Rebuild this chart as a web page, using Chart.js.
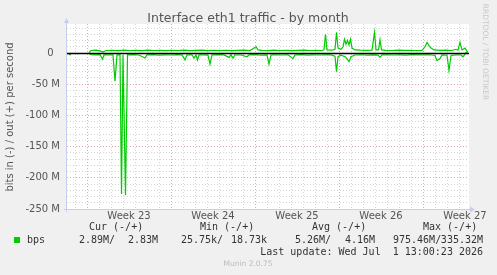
<!DOCTYPE html>
<html>
<head>
<meta charset="utf-8">
<title>Interface eth1 traffic - by month</title>
<script src="https://cdn.jsdelivr.net/npm/chart.js@4.4.1/dist/chart.umd.min.js"></script>
<style>
  html, body { margin: 0; padding: 0; background: #f0f0f0; }
  canvas { display: block; }
</style>
</head>
<body>
<canvas id="myChart" width="497" height="275"></canvas>
<script>
// hours since start of week 23, values in Mbit/s
var outHours = [4, 8, 18, 26, 32, 38, 50, 62, 74, 86, 98, 110, 122, 134, 146, 158, 170, 182, 194, 206,
    218, 230, 242, 254, 266, 278, 290, 302, 314, 326, 332, 338, 342, 350, 362, 374, 386, 398, 410, 422,
    434, 446, 458, 470, 474, 477, 480, 490, 496, 499, 502, 508, 512, 515, 518, 521, 524, 527, 530, 536,
    546, 558, 570, 575, 578, 583, 586, 589, 598, 610, 622, 634, 646, 658, 670, 676, 680, 684, 688, 694,
    706, 718, 730, 738, 742, 746, 750, 756, 760, 762];
var outValues = [0.5, 4, 4.5, 3.5, 1.5, 4, 4.2, 3.8, 4.5, 4, 4.3, 3.8, 4.5, 4, 4.2, 3.7, 4.4, 4, 4.5, 3.9,
    4.2, 4.6, 3.8, 4.3, 4, 4.4, 3.9, 4.2, 4.5, 4, 7, 10, 5, 4.2, 3.9, 4.5, 4, 4.3, 3.8, 4.2,
    4.5, 4, 4.3, 4, 5, 30, 5, 4.5, 6, 33, 8, 6, 10, 22, 14, 20, 13, 22, 8, 5,
    4.5, 4.2, 4.6, 33, 5, 5, 21, 5, 4.3, 4, 4.5, 4.1, 4.4, 4, 4.3, 10, 17, 12, 8, 5,
    4.2, 4.5, 4, 6, 4.5, 17, 5, 8, 3, 2];

var inHours = [-40, -36, -34, -32, -28, -20, -16, -12,
    4, 8, 18, 26, 31, 34, 46, 52, 56, 60, 66, 69, 72, 77, 81, 92, 104, 116, 120, 132, 144, 156,
    168, 180, 190, 196, 200, 210, 214, 218, 221, 224, 234, 242, 246, 250, 262, 274, 284, 288, 292, 296,
    308, 320, 324, 336, 348, 360, 364, 368, 380, 392, 402, 412, 416, 428, 440, 452, 464, 476, 488, 496,
    499, 502, 508, 516, 520, 524, 528, 536, 548, 560, 572, 582, 586, 590, 602, 614, 626, 638, 650, 662,
    674, 686, 696, 700, 706, 710, 720, 724, 728, 738, 748, 752, 758, 762];
var inValues = [-1, -1, -3, -1, null, -1, -1, null,
    -0.5, -2.5, -3, -2.5, -10, -3, -2.8, -3, -45, -3, -2.6, -226, -3, -228, -3, -2.7, -3.2, -8, -3, -2.6, -3.5, -2.9,
    -3.2, -2.7, -3, -11, -3, -2.8, -8, -3, -11, -3, -2.9, -3.3, -18, -3, -2.7, -3.1, -7, -3, -8, -2.8,
    -3.2, -6, -3, -2.7, -3.3, -3, -18, -3, -2.8, -3.2, -3, -9, -3, -2.7, -3.4, -2.9, -3.2, -2.8, -3.1, -5,
    -30, -6, -3.5, -6, -9, -14, -6, -3.2, -2.8, -3.3, -3, -3.5, -7, -3, -2.8, -3.2, -2.9, -3.3, -2.7, -3.1,
    -3, -2.8, -4, -12, -9, -3, -3.5, -28, -4, -3, -3.2, -6, 1, 2];

var weekHours = [84, 252, 420, 588, 756];
var weekLabels = ["Week 23", "Week 24", "Week 25", "Week 26", "Week 27"];
var yTickValues = [-250, -240, -230, -220, -210, -200, -190, -180, -170, -160, -150, -140, -130, -120, -110,
    -100, -90, -80, -70, -60, -50, -40, -30, -20, -10, 0, 10, 20, 30, 40];

var legendHeads = ["Cur (-/+)", "Min (-/+)", "Avg (-/+)", "Max (-/+)"];
var legendIn = ["2.89M/", "25.75k/", "5.26M/", "975.46M/"];
var legendOut = ["2.83M", "18.73k", "4.16M", "335.32M"];

var GREEN = "#00cc00";
var SANS = "'DejaVu Sans', sans-serif";
var MONO = "'DejaVu Sans Mono', monospace";

function pairs(xs, ys) {
    return xs.map(function(x, i) { return {x: x, y: ys[i]}; });
}

var muninPlugin = {
    id: "munin",
    beforeDraw: function(chart) {
        var c = chart.ctx, a = chart.chartArea;
        c.save();
        c.fillStyle = "#f0f0f0";
        c.fillRect(0, 0, chart.width, chart.height);
        c.fillStyle = "#ffffff";
        c.fillRect(a.left, a.top, a.right - a.left, a.bottom - a.top);
        c.restore();
    },
    afterDatasetsDraw: function(chart) {
        var c = chart.ctx, a = chart.chartArea;
        var y0 = Math.round(chart.scales.y.getPixelForValue(0)) + 0.5;
        c.save();
        c.strokeStyle = "#000000";
        c.lineWidth = 1.5;
        c.beginPath();
        c.moveTo(a.left, y0);
        c.lineTo(a.right, y0);
        c.stroke();
        c.restore();
    },
    afterDraw: function(chart) {
        var c = chart.ctx, a = chart.chartArea;
        c.save();
        // axes with arrows
        c.strokeStyle = "#c8ccf0";
        c.fillStyle = "#c8ccf0";
        c.lineWidth = 1;
        c.beginPath();
        c.moveTo(a.left - 0.5, a.bottom + 3);
        c.lineTo(a.left - 0.5, a.top - 2);
        c.moveTo(a.left - 3, a.bottom + 0.5);
        c.lineTo(a.right + 2, a.bottom + 0.5);
        c.stroke();
        c.beginPath();
        c.moveTo(a.left - 3, a.top - 1);
        c.lineTo(a.left - 0.5, a.top - 6);
        c.lineTo(a.left + 2, a.top - 1);
        c.fill();
        c.beginPath();
        c.moveTo(a.right + 1, a.bottom - 2.5);
        c.lineTo(a.right + 6, a.bottom + 0.5);
        c.lineTo(a.right + 1, a.bottom + 3.5);
        c.fill();

        // title
        c.fillStyle = "#555555";
        c.font = "12.5px " + SANS;
        c.textAlign = "center";
        c.textBaseline = "middle";
        c.fillText("Interface eth1 traffic - by month", 248, 19);

        // y axis title
        c.save();
        c.translate(10, 117);
        c.rotate(-Math.PI / 2);
        c.font = "10px " + SANS;
        c.fillText("bits in (-) / out (+) per second", 0, 0);
        c.restore();

        // watermark
        c.save();
        c.translate(485, 52);
        c.rotate(Math.PI / 2);
        c.fillStyle = "#c8c8c8";
        c.font = "7.5px " + SANS;
        c.fillText("RRDTOOL / TOBI OETIKER", 0, 0);
        c.restore();

        // legend
        c.font = "10px " + MONO;
        c.fillStyle = "#333333";
        c.textAlign = "left";
        var headX = [89, 200, 312, 423];
        legendHeads.forEach(function(t, i) { c.fillText(t, headX[i], 227); });
        c.fillStyle = GREEN;
        c.fillRect(14, 237, 6, 6);
        c.fillStyle = "#333333";
        c.fillText("bps", 27, 240);
        var inX = [79, 181, 295, 393];
        var outX = [158, 267, 375, 483];
        legendIn.forEach(function(t, i) {
            c.textAlign = "left";
            c.fillText(t, inX[i], 240);
            c.textAlign = "right";
            c.fillText(legendOut[i], outX[i], 240);
        });
        c.textAlign = "right";
        c.fillText("Last update: Wed Jul  1 13:00:23 2026", 483, 252);

        c.textAlign = "center";
        c.fillStyle = "#bbbbbb";
        c.font = "7.5px " + SANS;
        c.fillText("Munin 2.0.75", 248, 264);
        c.restore();
    }
};

var ctx = document.getElementById("myChart").getContext("2d");
var chart = new Chart(ctx, {
    type: "line",
    data: {
        datasets: [{
            label: "out",
            data: pairs(outHours, outValues),
            borderColor: GREEN,
            borderWidth: 1.2,
            pointRadius: 0,
            tension: 0,
            spanGaps: false
        }, {
            label: "in",
            data: pairs(inHours, inValues),
            borderColor: GREEN,
            borderWidth: 1.2,
            pointRadius: 0,
            tension: 0,
            spanGaps: false
        }]
    },
    options: {
        responsive: false,
        animation: false,
        layout: {padding: {left: 0, top: 24, right: 28, bottom: 0}},
        plugins: {legend: {display: false}, title: {display: false}, tooltip: {enabled: false}},
        scales: {
            x: {
                type: "linear",
                min: -40,
                max: 764,
                afterBuildTicks: function(axis) {
                    var t = [];
                    for (var h = -24; h <= 764; h += 24) t.push({value: h});
                    weekHours.forEach(function(h) { t.push({value: h}); });
                    t.sort(function(a, b) { return a.value - b.value; });
                    axis.ticks = t;
                },
                afterFit: function(axis) { axis.height = 66; },
                ticks: {
                    autoSkip: false,
                    maxRotation: 0,
                    padding: 1,
                    color: "#555555",
                    font: {family: SANS, size: 10},
                    callback: function(v) {
                        var i = weekHours.indexOf(v);
                        return i >= 0 ? weekLabels[i] : "";
                    }
                },
                grid: {
                    drawTicks: false,
                    color: function(c) {
                        var v = c.tick.value;
                        if (weekHours.indexOf(v) >= 0) return "rgba(0,0,0,0)";
                        if (v % 168 === 0) return "#e4a8a8";
                        return "#d4d4d4";
                    }
                },
                border: {display: false, dash: [1, 2]}
            },
            y: {
                type: "linear",
                min: -250,
                max: 46.5,
                afterBuildTicks: function(axis) {
                    axis.ticks = yTickValues.map(function(v) { return {value: v}; });
                },
                afterFit: function(axis) { axis.width = 67; },
                ticks: {
                    autoSkip: false,
                    padding: 7,
                    color: "#555555",
                    font: {family: SANS, size: 10},
                    callback: function(v) {
                        if (v % 50 !== 0) return "";
                        return v === 0 ? "0  " : v + " M";
                    }
                },
                grid: {
                    drawTicks: false,
                    color: function(c) {
                        return c.tick.value % 50 === 0 ? "#e4a8a8" : "#d4d4d4";
                    }
                },
                border: {display: false, dash: [1, 2]}
            }
        }
    },
    plugins: [muninPlugin]
});
</script>
</body>
</html>
